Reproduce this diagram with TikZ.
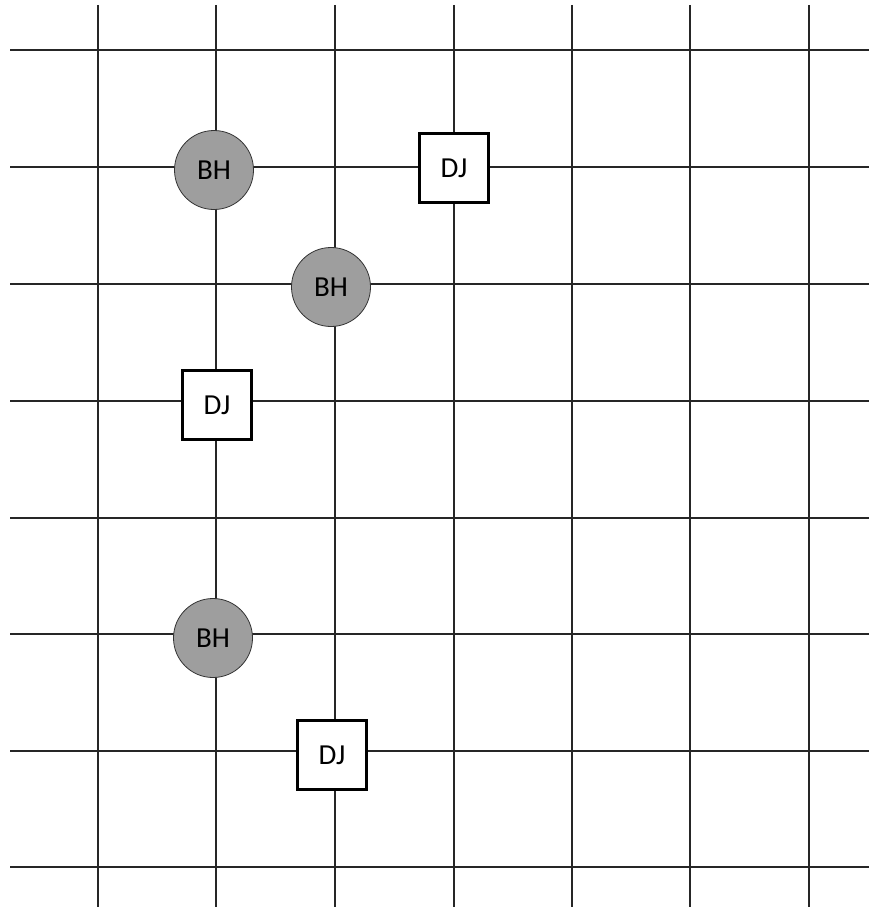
\documentclass[tikz,border=0pt]{standalone}
\usepackage{fontspec}
\setmainfont{Carlito}
\begin{document}
\begin{tikzpicture}[x=1pt,y=-1pt,
  gridline/.style={line width=1.6pt,draw=black!85},
  bhnode/.style={circle,draw=black!80,line width=0.8pt,fill=black!38,minimum size=79pt,inner sep=0pt,font=\fontsize{29}{33}\selectfont},
  djnode/.style={rectangle,draw=black,line width=3pt,fill=white,minimum size=69pt,inner sep=0pt,font=\fontsize{29}{33}\selectfont}]
\useasboundingbox (0,0) rectangle (869,907);
\foreach \x in {98,216,335,454,572,690,809} \draw[gridline] (\x,5) -- (\x,907);
\foreach \y in {50,167,284,401,518,634,751,867} \draw[gridline] (10,\y) -- (869,\y);
\node[bhnode] (bh1) at (214,170) {BH};
\node[djnode] (dj1) at (454,168) {DJ};
\node[bhnode] (bh2) at (331,287) {BH};
\node[djnode] (dj2) at (217,405) {DJ};
\node[bhnode] (bh3) at (213,638) {BH};
\node[djnode] (dj3) at (332,755) {DJ};
\end{tikzpicture}
\end{document}
